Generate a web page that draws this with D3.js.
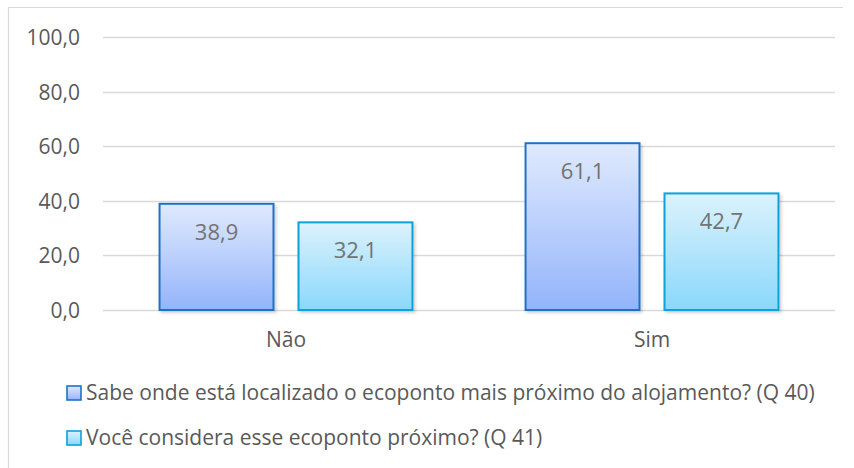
<!DOCTYPE html>
<html><head><meta charset="utf-8">
<script src="https://cdn.jsdelivr.net/npm/d3@7"></script>
<style>body{margin:0;background:#fff}svg{display:block}text{font-family:"Open Sans","Noto Sans",sans-serif}</style>
</head><body><svg id="c" width="854" height="468"></svg>
<script>
const categories = ["Não", "Sim"];
const seriesNames = ["Sabe onde está localizado o ecoponto mais próximo do alojamento? (Q 40)", "Você considera esse ecoponto próximo? (Q 41)"];
const q40 = [38.9, 61.1];
const q41 = [32.1, 42.7];
const yTicks = [0, 20, 40, 60, 80, 100];

const svg = d3.select("#c");
const W = 854, H = 468;
const m = {l: 103, r: 19, t: 37, b: 158};
const fmt = v => d3.format(".1f")(v).replace(".", ",");

svg.append("path").attr("d", "M8.5,468V7.5H843").attr("fill", "none").attr("stroke", "#d9d9d9").attr("stroke-width", 1.2);

const defs = svg.append("defs");
const grads = [["g0", "#e0eafd", "#93b4fb"], ["g1", "#dcf2fd", "#8ad8fb"]];
grads.forEach(([id, a, b]) => {
  const g = defs.append("linearGradient").attr("id", id).attr("x1", 0).attr("y1", 0).attr("x2", 0).attr("y2", 1);
  g.append("stop").attr("offset", "0%").attr("stop-color", a);
  g.append("stop").attr("offset", "100%").attr("stop-color", b);
});
const f = defs.append("filter").attr("id", "sh").attr("x", "-10%").attr("y", "-10%").attr("width", "130%").attr("height", "130%");
f.append("feDropShadow").attr("dx", 2).attr("dy", 2).attr("stdDeviation", 1.5).attr("flood-color", "#000").attr("flood-opacity", 0.18);

const x0 = d3.scaleBand().domain(categories).range([m.l, W - m.r]).paddingInner(0).paddingOuter(0);
const bw = x0.bandwidth();
const x1 = d3.scaleBand().domain([0, 1]).range([bw * 0.1545, bw * 0.8455]).paddingInner(0.18).paddingOuter(0);
const y = d3.scaleLinear().domain([0, 100]).range([H - m.b, m.t]);

// grid
svg.append("g").selectAll("line").data(yTicks).join("line")
  .attr("x1", m.l).attr("x2", W - m.r).attr("y1", d => Math.round(y(d)) + 0.5).attr("y2", d => Math.round(y(d)) + 0.5)
  .attr("stroke", "#d9d9d9").attr("stroke-width", 1.3);

// y labels
const ya = svg.append("g").attr("transform", `translate(${m.l - 23},0)`)
  .call(d3.axisLeft(y).tickValues(yTicks).tickFormat(fmt).tickSize(0).tickPadding(0));
ya.select(".domain").remove();
ya.selectAll("text").attr("font-size", 21).attr("fill", "#595959").attr("dy", "0.36em");

const strokes = ["#1f72c6", "#0ba2da"];
const series = [q40, q41];
series.forEach((vals, si) => {
  const g = svg.append("g");
  g.selectAll("rect").data(categories).join("rect")
    .attr("x", c => x0(c) + x1(si)).attr("y", (c, i) => y(vals[i]))
    .attr("width", x1.bandwidth()).attr("height", (c, i) => y(0) - y(vals[i]))
    .attr("fill", `url(#g${si})`).attr("stroke", strokes[si]).attr("stroke-width", 2)
    .attr("filter", "url(#sh)");
  g.selectAll("text").data(categories).join("text")
    .attr("x", c => x0(c) + x1(si) + x1.bandwidth() / 2).attr("y", (c, i) => y(vals[i]) + 36)
    .attr("text-anchor", "middle").attr("font-size", 22).attr("fill", "#737373")
    .text((c, i) => fmt(vals[i]));
});

// x labels
const xa = svg.append("g").attr("transform", `translate(0,${y(0)})`)
  .call(d3.axisBottom(x0).tickSize(0).tickPadding(0));
xa.select(".domain").remove();
xa.selectAll("text").attr("font-size", 21).attr("fill", "#595959").attr("dy", null).attr("y", 37);

// legend
const leg = svg.append("g");
seriesNames.forEach((n, i) => {
  const yy = 400 + i * 45;
  leg.append("rect").attr("x", 67).attr("y", yy - 14).attr("width", 14).attr("height", 14)
    .attr("fill", `url(#g${i})`).attr("stroke", strokes[i]).attr("stroke-width", 1.6);
  leg.append("text").attr("x", 86).attr("y", yy).attr("font-size", 21)
    .attr("fill", "#595959").text(n);
});
</script></body></html>
